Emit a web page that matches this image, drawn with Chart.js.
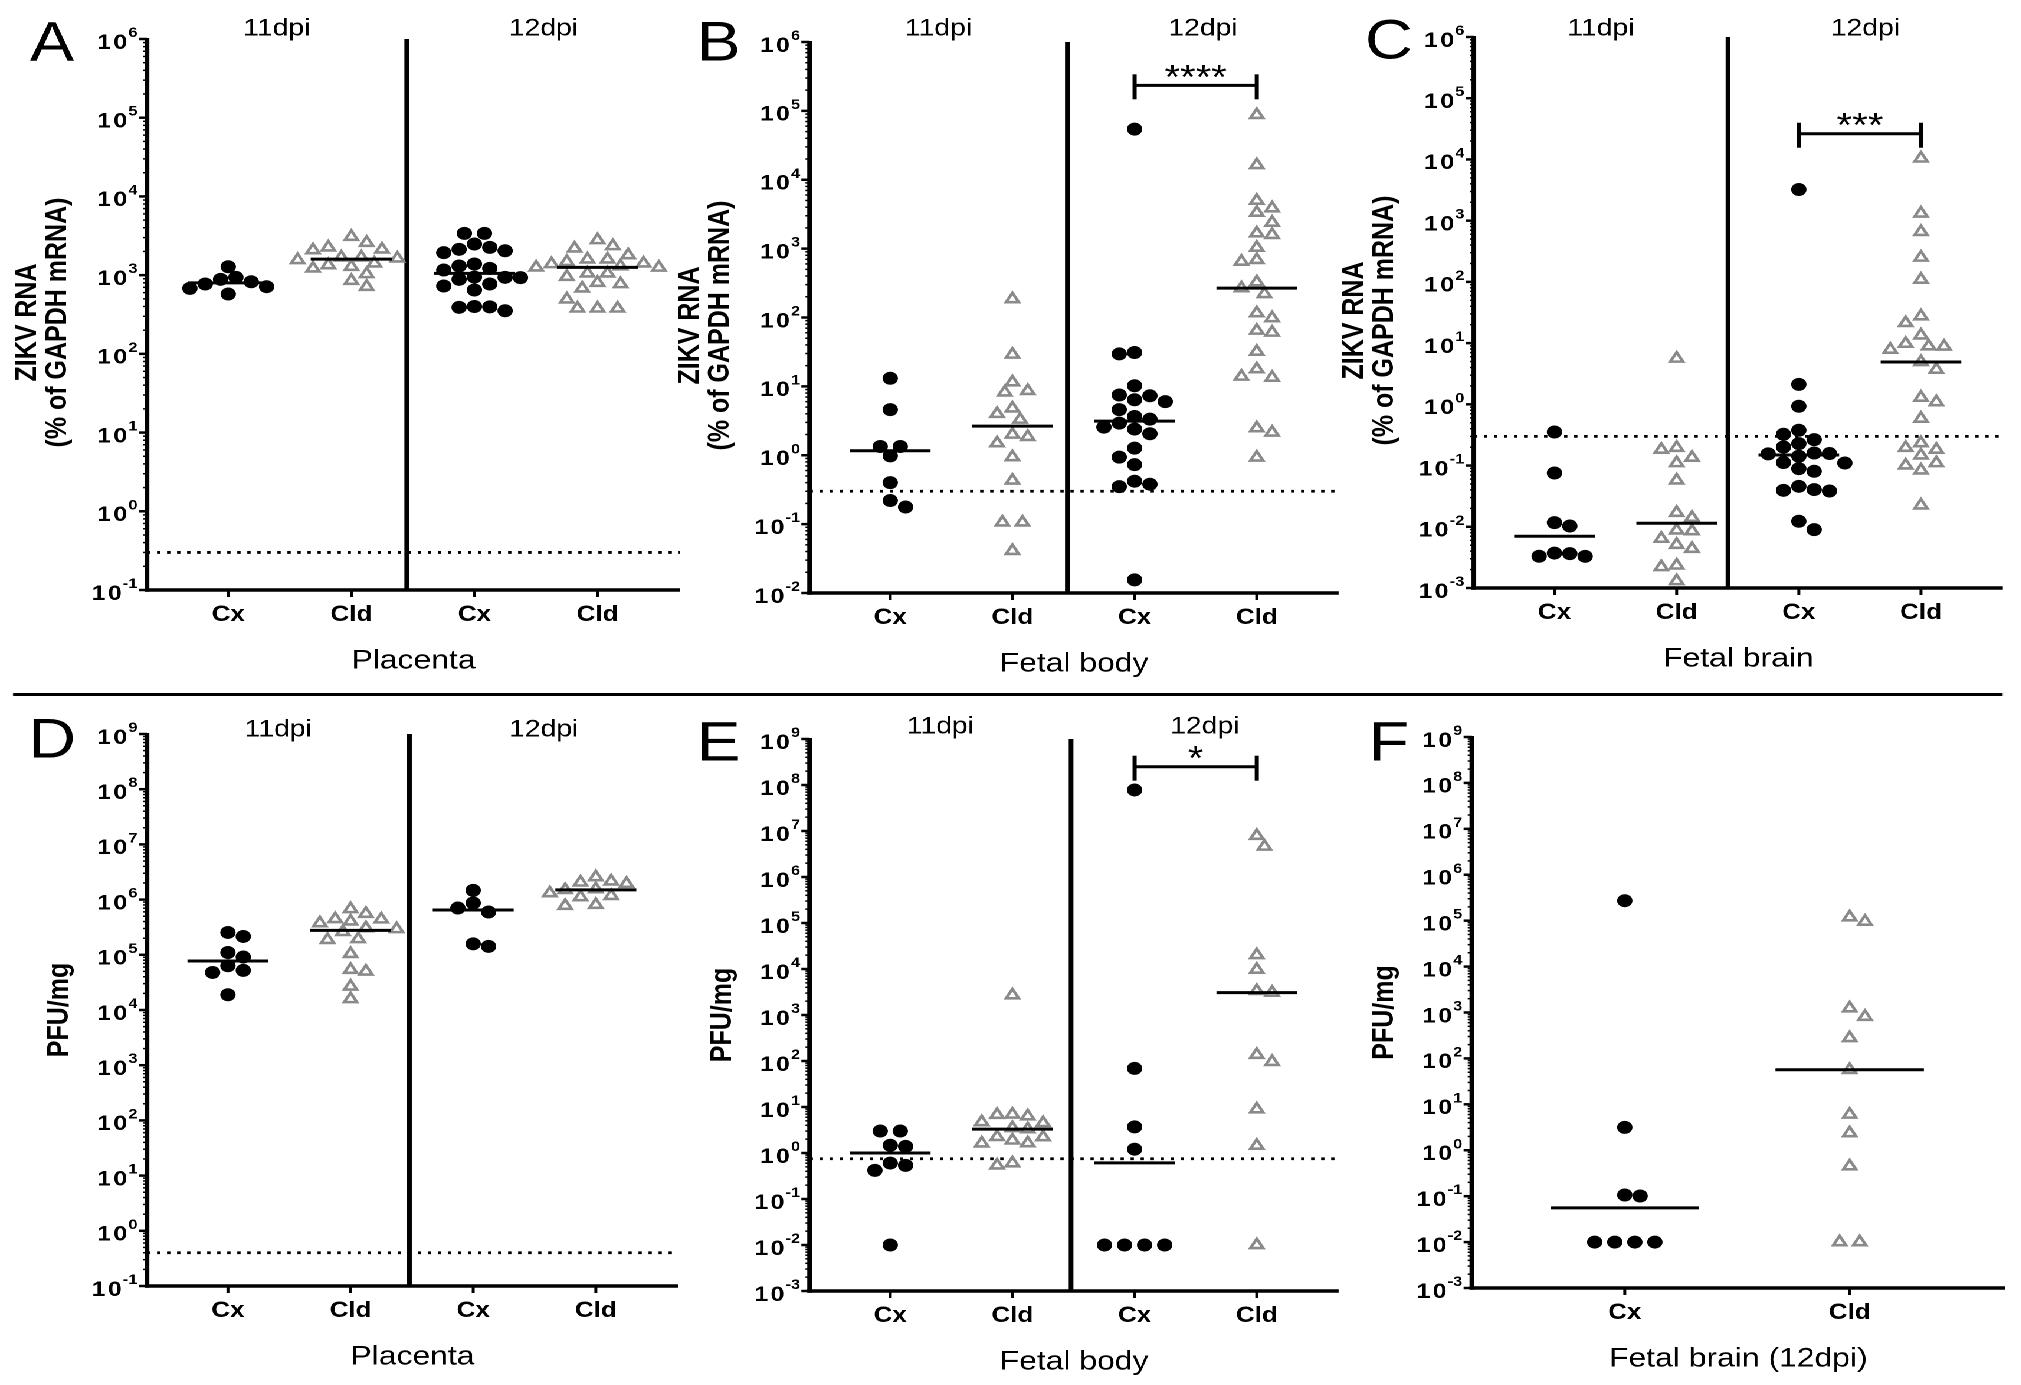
<!DOCTYPE html>
<html>
<head>
<meta charset="utf-8">
<script src="https://cdn.jsdelivr.net/npm/chart.js@4.4.1/dist/chart.umd.min.js"></script>
<style>
  html, body { margin: 0; padding: 0; background: #fff; width: 2021px; height: 1385px; overflow: hidden; }
  #stage { position: absolute; left: 0; top: 0; width: 1713px; height: 1385px; transform: scaleX(1.18); transform-origin: 0 0; }
  #stage canvas { position: absolute; }
  #rule { position: absolute; left: 11px; top: 693px; width: 1686px; height: 3px; background: #000; }
</style>
</head>
<body>
<div id="stage">
  <div id="rule"></div>
  <canvas id="panelA"></canvas>
  <canvas id="panelB"></canvas>
  <canvas id="panelC"></canvas>
  <canvas id="panelD"></canvas>
  <canvas id="panelE"></canvas>
  <canvas id="panelF"></canvas>
</div>
<script>
// the published figure is stretched sideways, so everything is laid out narrow and scaled by S
const S = 1.18;
const FONT = '"Liberation Sans", Arial, sans-serif';

// ---- values ----
const groupLabels = ['Cx', 'Cld', 'Cx', 'Cld'];
const brainGroupLabels = ['Cx', 'Cld'];
const dpiLabels = ['11dpi', '12dpi'];

// A: ZIKV RNA, placenta
const placentaRna11Cx = [938, 824, 713, 1279, 575, 679, 771, 885];
const placentaRna11Cld = [3076, 2582, 2254, 2128, 2084, 1683, 1683, 1633, 1560, 1413, 1279, 1219, 1343, 1033, 849, 713];
const placentaRna12Cx = [3396, 3396, 2483, 2254, 2128, 2042, 1929, 1384, 1306, 1219, 1161, 938, 945, 930, 885, 771, 728, 647, 400, 395, 390, 353];
const placentaRna12Cld = [2793, 2344, 2188, 1799, 1589, 1589, 1479, 1413, 1384, 1256, 1300, 1250, 1054, 1054, 955, 802, 771, 679, 493, 378, 378, 378];

// B: ZIKV RNA, fetal body
const bodyRna11Cx = [13.1, 4.6, 1.34, 1.34, 0.98, 0.40, 0.177, 0.22];
const bodyRna11Cld = [185, 29, 11.5, 8.2, 8.6, 4.8, 4.0, 3.3, 1.85, 1.5, 2.0, 0.94, 0.43, 0.106, 0.106, 0.041];
const bodyRna12Cx = [54300, 29.6, 31, 10.2, 7.5, 7.3, 6.0, 6.4, 4.6, 3.65, 2.93, 3.34, 2.40, 2.05, 2.56, 1.27, 0.94, 0.73, 0.38, 0.35, 0.42, 0.0155];
const bodyRna12Cld = [87500, 16400, 4990, 3860, 3340, 2390, 1585, 1675, 1037, 687, 649, 326, 267, 220, 98, 116, 60.5, 64.7, 32, 17.8, 13.4, 13.9, 2.48, 2.14, 0.93];

// C: ZIKV RNA, fetal brain
const brainRna11Cx = [0.353, 0.0755, 0.0117, 0.0103, 0.00364, 0.00329, 0.00330, 0.00372];
const brainRna11Cld = [5.6, 0.182, 0.196, 0.135, 0.110, 0.0574, 0.0170, 0.0141, 0.00851, 0.00874, 0.00510, 0.00438, 0.00640, 0.00234, 0.00220, 0.00130];
const brainRna12Cx = [3230, 2.12, 0.93, 0.377, 0.324, 0.265, 0.228, 0.201, 0.142, 0.157, 0.155, 0.160, 0.110, 0.112, 0.0806, 0.0891, 0.0458, 0.0394, 0.0384, 0.0405, 0.0123, 0.00898];
const brainRna12Cld = [10400, 1310, 656, 250, 109, 27.5, 21.4, 13.4, 8.9, 7.85, 8.8, 9.8, 4.92, 3.70, 1.09, 1.29, 0.585, 0.233, 0.147, 0.182, 0.196, 0.101, 0.0836, 0.110, 0.0224];

// D: PFU/mg, placenta
const placentaPfu11Cx = [254000, 215000, 91000, 110000, 63400, 52100, 47900, 18900];
const placentaPfu11Cld = [445000, 555000, 376000, 675000, 440000, 403000, 293000, 260000, 305000, 193000, 187000, 104000, 53600, 50000, 26700, 15800];
const placentaPfu12Cx = [1470000, 703000, 867000, 596000, 142000, 158000];
const placentaPfu12Cld = [1550000, 2050000, 2560000, 1940000, 2140000, 1310000, 1110000, 774000, 807000, 1170000, 1500000];

// E: PFU/mg, fetal body
const bodyPfu11Cx = [3.0, 3.0, 1.39, 1.47, 0.538, 0.419, 0.604, 0.01];
const bodyPfu11Cld = [2690, 6.9, 6.3, 4.5, 4.7, 6.8, 3.3, 3.5, 2.22, 1.64, 1.62, 1.88, 2.25, 0.54, 0.60];
const bodyPfu12Cx = [7.8e7, 69, 3.7, 1.21, 0.01, 0.01, 0.01, 0.01];
const bodyPfu12Cld = [7.9e6, 4.6e6, 20200, 9700, 3070, 3350, 137, 96, 8.95, 1.45, 0.01];

// F: PFU/mg, fetal brain (12dpi only)
const brainPfu12Cx = [272000, 3.15, 0.106, 0.101, 0.01, 0.01, 0.01, 0.01];
const brainPfu12Cld = [119000, 95700, 810, 1240, 279, 56.5, 6.0, 2.36, 0.448, 0.01, 0.01];

// limits of detection and significance marks
const rnaLimit = 0.3;
const placentaPfuLimit = 0.4;
const bodyPfuLimit = 0.75;
const bodyRnaStars = { text: '****', level: 2.35e5 };
const brainRnaStars = { text: '***', level: 2.63e4 };
const bodyPfuStars = { text: '*', level: 2.5e8 };

// ---- layout, in pixels of the full figure ----
const rnaTitle = ['ZIKV RNA', '(% of GAPDH mRNA)'];
const pfuTitle = ['PFU/mg'];

const panels = [
  { id: 'A', canvas: [0, 0, 700, 694], plot: [147, 39, 680, 590], letterAt: [52, 45], headerY: 29,
    decades: [-1, 6], xRange: [-0.66, 3.67], sep: 1.45, labels: groupLabels,
    groups: [placentaRna11Cx, placentaRna11Cld, placentaRna12Cx, placentaRna12Cld],
    limit: rnaLimit, title: rnaTitle, tissue: 'Placenta' },
  { id: 'B', canvas: [660, 0, 1360, 694], plot: [810, 42, 1339, 593], letterAt: [719, 45], headerY: 29,
    decades: [-2, 6], xRange: [-0.66, 3.67], sep: 1.45, labels: groupLabels,
    groups: [bodyRna11Cx, bodyRna11Cld, bodyRna12Cx, bodyRna12Cld],
    limit: rnaLimit, title: rnaTitle, tissue: 'Fetal body', stars: bodyRnaStars },
  { id: 'C', canvas: [1330, 0, 2021, 694], plot: [1474, 37, 2003, 588], letterAt: [1389, 43], headerY: 29,
    decades: [-3, 6], xRange: [-0.66, 3.67], sep: 1.42, labels: groupLabels,
    groups: [brainRna11Cx, brainRna11Cld, brainRna12Cx, brainRna12Cld],
    limit: rnaLimit, title: rnaTitle, tissue: 'Fetal brain', stars: brainRnaStars },
  { id: 'D', canvas: [0, 694, 700, 1385], plot: [147, 734, 678, 1286], letterAt: [52, 742], headerY: 730,
    decades: [-1, 9], xRange: [-0.66, 3.67], sep: 1.48, labels: groupLabels,
    groups: [placentaPfu11Cx, placentaPfu11Cld, placentaPfu12Cx, placentaPfu12Cld],
    limit: placentaPfuLimit, title: pfuTitle, tissue: 'Placenta' },
  { id: 'E', canvas: [660, 694, 1360, 1385], plot: [810, 739, 1339, 1291], letterAt: [719, 745], headerY: 727,
    decades: [-3, 9], xRange: [-0.66, 3.67], sep: 1.48, labels: groupLabels,
    groups: [bodyPfu11Cx, bodyPfu11Cld, bodyPfu12Cx, bodyPfu12Cld],
    limit: bodyPfuLimit, title: pfuTitle, tissue: 'Fetal body', stars: bodyPfuStars },
  { id: 'F', canvas: [1330, 694, 2021, 1385], plot: [1472, 737, 2005, 1288], letterAt: [1389, 745], headerY: null,
    decades: [-3, 9], xRange: [-0.68, 1.69], sep: null, labels: brainGroupLabels,
    groups: [brainPfu12Cx, brainPfu12Cld],
    limit: null, title: pfuTitle, tissue: 'Fetal brain (12dpi)' }
];

function median(values) {
  const s = [...values].sort((a, b) => a - b), n = s.length;
  return n % 2 ? s[(n - 1) / 2] : (s[n / 2 - 1] + s[n / 2]) / 2;
}

function line(ctx, x1, y1, x2, y2) {
  ctx.beginPath(); ctx.moveTo(x1, y1); ctx.lineTo(x2, y2); ctx.stroke();
}

// spread the dots of one column sideways; close values may overlap a little, like the original
function swarm(chart, values, cat) {
  const xs = chart.scales.x, ys = chart.scales.y;
  const unit = xs.getPixelForValue(cat + 1) - xs.getPixelForValue(cat);
  const step = 6.5, minDist = 12, rowGap = 17;
  const pts = values.map(v => ({ v, py: ys.getPixelForValue(v), off: null }));
  const placed = [];
  const same = {};
  pts.forEach(p => (same[p.v] = same[p.v] || []).push(p));
  Object.values(same).forEach(g => {
    if (g.length < 2) return;
    g.forEach((p, k) => { p.off = (k - (g.length - 1) / 2) * rowGap; placed.push(p); });
  });
  pts.filter(p => p.off === null).sort((a, b) => b.v - a.v).forEach((p, n) => {
    for (let k = 0; k < 80; k++) {
      const m = Math.ceil(k / 2) * (k % 2 ? -1 : 1) * (n % 2 ? -1 : 1);
      const off = m * step;
      if (placed.every(q => (q.off - off) ** 2 + (q.py - p.py) ** 2 >= minDist ** 2)) { p.off = off; break; }
    }
    if (p.off === null) p.off = 0;
    placed.push(p);
  });
  return pts.map(p => ({ x: cat + p.off / unit, y: p.v }));
}

function figurePlugin(p) {
  return {
    id: 'figure' + p.id,
    afterDraw(chart) {
      const { ctx, chartArea: a, scales: { x, y } } = chart;
      const cx = p.canvas[0] / S, cy = p.canvas[1];
      ctx.save();
      ctx.fillStyle = '#000';
      ctx.strokeStyle = '#000';

      // axes
      ctx.lineWidth = 4;
      line(ctx, a.left, a.top - 1, a.left, a.bottom + 1.75);
      ctx.lineWidth = 3.5;
      line(ctx, a.left - 2, a.bottom, a.right, a.bottom);

      for (let e = p.decades[0]; e <= p.decades[1]; e++) {
        const py = y.getPixelForValue(10 ** e);
        ctx.lineWidth = 2.5;
        line(ctx, a.left - 7, py, a.left, py);
        if (e < p.decades[1]) {
          ctx.lineWidth = 1.5;
          for (let k = 2; k < 10; k++) {
            const q = y.getPixelForValue(k * 10 ** e);
            line(ctx, a.left - 3.5, q, a.left, q);
          }
        }
        ctx.font = 'bold 14px ' + FONT;
        ctx.textAlign = 'left';
        ctx.textBaseline = 'alphabetic';
        const ex = String(e), ew = ctx.measureText(ex).width;
        const exX = a.left - 8 - ew;
        ctx.fillText(ex, exX, py - 2);
        ctx.font = 'bold 21px ' + FONT;
        ctx.textAlign = 'right';
        ctx.textBaseline = 'middle';
        if ('letterSpacing' in ctx) ctx.letterSpacing = '2px';
        ctx.fillText('10', exX + 1, py + 4);
        if ('letterSpacing' in ctx) ctx.letterSpacing = '0px';
      }

      // categories
      p.labels.forEach((lab, i) => {
        const px = x.getPixelForValue(i);
        ctx.lineWidth = 2.5;
        line(ctx, px, a.bottom, px, a.bottom + 7);
        ctx.font = 'bold 22px ' + FONT;
        ctx.textAlign = 'center';
        ctx.textBaseline = 'middle';
        ctx.fillText(lab, px, a.bottom + 25);
      });
      ctx.font = '27px ' + FONT;
      ctx.fillText(p.tissue, (a.left + a.right) / 2, a.bottom + 71);

      // 11dpi / 12dpi headers
      if (p.sep !== null) {
        const sx = x.getPixelForValue(p.sep);
        ctx.font = '24px ' + FONT;
        ctx.fillText(dpiLabels[0], (a.left + sx) / 2, p.headerY - cy);
        ctx.fillText(dpiLabels[1], (sx + a.right) / 2, p.headerY - cy);
      }

      // significance bracket
      if (p.stars) {
        const x1 = x.getPixelForValue(2), x2 = x.getPixelForValue(3);
        const by = y.getPixelForValue(p.stars.level);
        ctx.lineWidth = 3;
        line(ctx, x1, by, x2, by);
        ctx.lineWidth = 3.5;
        line(ctx, x1, by - 11, x1, by + 14);
        line(ctx, x2, by - 11, x2, by + 14);
        ctx.font = '34px ' + FONT;
        ctx.textBaseline = 'alphabetic';
        const m = ctx.measureText(p.stars.text);
        const mid = (m.actualBoundingBoxAscent - m.actualBoundingBoxDescent) / 2;
        ctx.fillText(p.stars.text, (x1 + x2) / 2, by - 14 + mid);
      }

      // y axis title
      const ymid = (a.top + a.bottom) / 2 + (p.title.length > 1 ? 8 : 0);
      ctx.font = 'bold 25px ' + FONT;
      ctx.textAlign = 'center';
      ctx.textBaseline = 'middle';
      const titleX = p.title.length > 1
        ? [p.plot[0] - 119, p.plot[0] - 89]
        : [p.plot[0] - 87];
      p.title.forEach((t, i) => {
        ctx.save();
        ctx.translate(titleX[i] / S - cx, ymid);
        ctx.rotate(-Math.PI / 2);
        ctx.fillText(t, 0, 0);
        ctx.restore();
      });

      // panel letter
      ctx.font = '56px ' + FONT;
      ctx.textAlign = 'center';
      ctx.textBaseline = 'middle';
      ctx.fillText(p.id, p.letterAt[0] / S - cx, p.letterAt[1] - cy);

      ctx.restore();
    }
  };
}

panels.forEach(p => {
  const [l, t, r, b] = p.canvas;
  const w = Math.round((r - l) / S), h = b - t;
  const el = document.getElementById('panel' + p.id);
  el.width = w;
  el.height = h;
  el.style.left = (l / S) + 'px';
  el.style.top = t + 'px';
  el.style.width = w + 'px';
  el.style.height = h + 'px';

  const datasets = [];
  p.groups.forEach((vals, i) => {
    const m = median(vals);
    datasets.push({
      data: [{ x: i - 0.33, y: m }, { x: i + 0.33, y: m }],
      showLine: true, borderColor: '#000', borderWidth: 3, pointRadius: 0, order: 0, clip: false
    });
  });
  p.groups.forEach((vals, i) => {
    const tri = p.labels[i] === 'Cld';
    datasets.push({
      data: vals.map(v => ({ x: i, y: v })),
      pointStyle: tri ? 'triangle' : 'circle',
      pointRadius: tri ? 6.2 : 6.5,
      backgroundColor: tri ? 'rgba(0,0,0,0)' : '#000',
      borderColor: tri ? '#8a8a8a' : '#000',
      borderWidth: tri ? 2.6 : 0,
      showLine: false, order: 1, clip: false
    });
  });
  if (p.limit !== null) {
    datasets.push({
      data: [{ x: p.xRange[0], y: p.limit }, { x: p.xRange[1], y: p.limit }],
      showLine: true, borderColor: '#000', borderWidth: 2.8, borderDash: [2.8, 5.7],
      pointRadius: 0, order: 2, clip: false
    });
  }
  if (p.sep !== null) {
    datasets.push({
      data: [{ x: p.sep, y: 10 ** p.decades[0] }, { x: p.sep, y: 10 ** p.decades[1] }],
      showLine: true, borderColor: '#000', borderWidth: 4, pointRadius: 0, order: 2, clip: false
    });
  }

  const chart = new Chart(el, {
    type: 'scatter',
    data: { datasets },
    options: {
      responsive: false,
      maintainAspectRatio: false,
      animation: false,
      devicePixelRatio: 2,
      events: [],
      layout: {
        padding: {
          left: p.plot[0] / S - l / S,
          right: w - (p.plot[2] - l) / S,
          top: p.plot[1] - t,
          bottom: b - p.plot[3]
        }
      },
      plugins: { legend: { display: false }, tooltip: { enabled: false } },
      scales: {
        x: { type: 'linear', min: p.xRange[0], max: p.xRange[1], display: false },
        y: { type: 'logarithmic', min: 10 ** p.decades[0], max: 10 ** p.decades[1], display: false }
      }
    },
    plugins: [figurePlugin(p)]
  });

  p.groups.forEach((vals, i) => {
    chart.data.datasets[p.groups.length + i].data = swarm(chart, vals, i);
  });
  chart.update('none');
});
</script>
</body>
</html>
